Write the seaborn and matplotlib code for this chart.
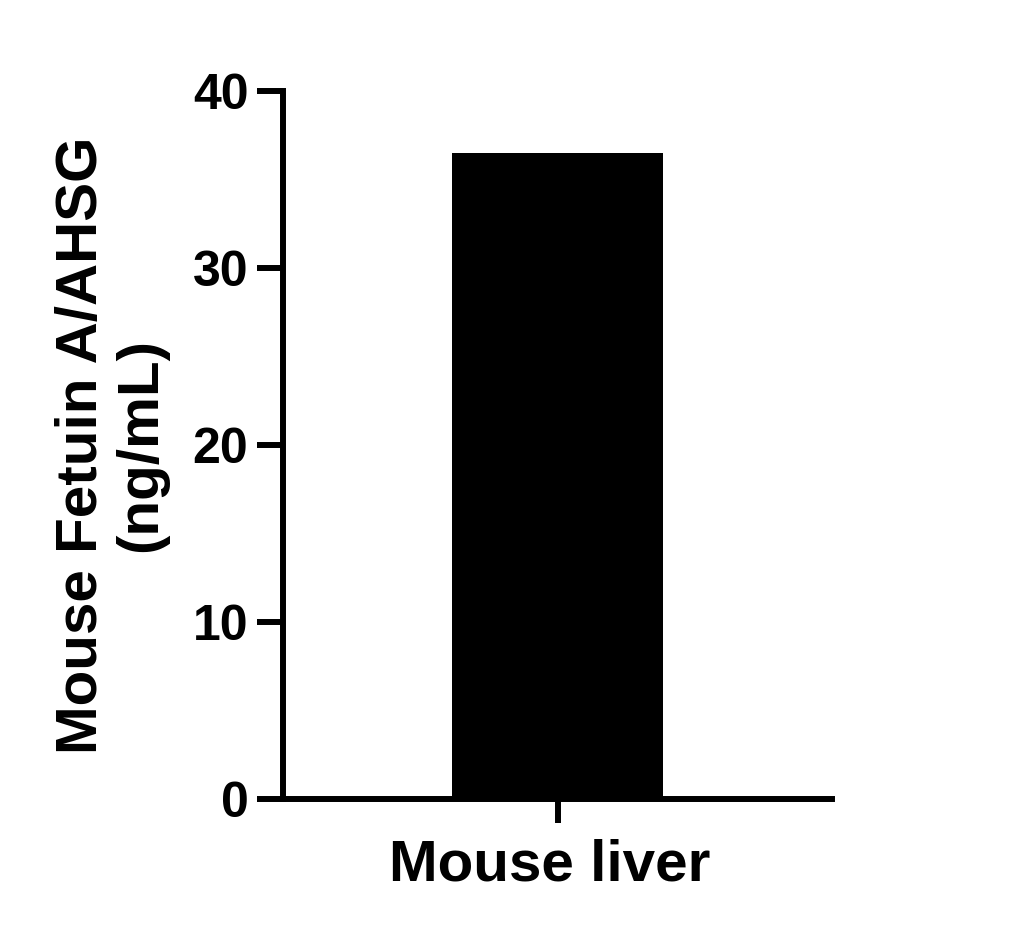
import matplotlib
matplotlib.use("Agg")
import matplotlib.pyplot as plt
import matplotlib.transforms as mtransforms
import seaborn as sns
import pandas as pd

# data
samples = ["Mouse liver"]
conc_ng_ml = [36.5]
y_ticks = [0, 10, 20, 30, 40]

sns.set_style("ticks")
plt.rcParams["font.family"] = ["Liberation Sans", "DejaVu Sans"]
plt.rcParams["font.weight"] = "bold"
plt.rcParams["text.color"] = "black"
plt.rcParams["axes.labelcolor"] = "black"

df = pd.DataFrame({"sample": samples, "conc": conc_ng_ml})

fig = plt.figure(figsize=(10.13, 9.34), dpi=100)
ax = fig.add_axes([0.2794, 0.1445, 0.8213 - 0.2794, 0.9022 - 0.1445])

sns.barplot(data=df, x="sample", y="conc", color="black", saturation=1,
            width=0.8, edgecolor="black", linewidth=0, ax=ax)

ax.set_xlim(-1.042, 1.042)
ax.set_ylim(0, 40)
ax.set_yticks(y_ticks)
ax.set_yticklabels([str(t) for t in y_ticks])

sns.despine(ax=ax)
for side in ["left", "bottom"]:
    ax.spines[side].set_linewidth(4.3)
    ax.spines[side].set_color("black")
    ax.spines[side].set_capstyle("projecting")

ax.tick_params(axis="y", length=18.5, width=4.3, pad=6.5, labelsize=36, colors="black")
ax.tick_params(axis="x", length=17.5, width=4.3, pad=11, labelsize=42, colors="black")
for lab in ax.get_yticklabels():
    lab.set_fontweight("bold")
# x label sits a little left of its tick in the reference
shift = mtransforms.ScaledTranslation(-8 / 100, 0, fig.dpi_scale_trans)
for lab in ax.get_xticklabels():
    lab.set_fontweight("bold")
    lab.set_transform(lab.get_transform() + shift)

ax.set_xlabel("")
ax.set_ylabel("Mouse Fetuin A/AHSG\n(ng/mL)", fontsize=42, fontweight="bold",
              color="black", linespacing=1.1, labelpad=18)

fig.savefig("out.png", dpi=100)
